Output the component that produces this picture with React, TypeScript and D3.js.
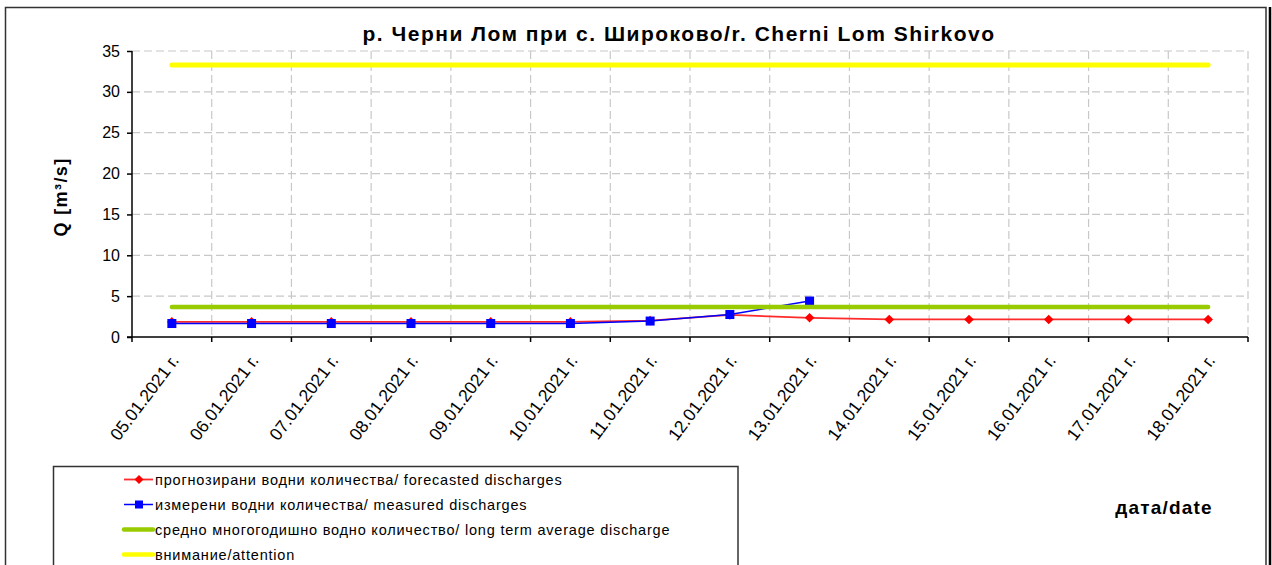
import React, { useEffect, useRef } from "react";
import * as d3 from "d3";

const dates: string[] = [
  "05.01.2021 г.",
  "06.01.2021 г.",
  "07.01.2021 г.",
  "08.01.2021 г.",
  "09.01.2021 г.",
  "10.01.2021 г.",
  "11.01.2021 г.",
  "12.01.2021 г.",
  "13.01.2021 г.",
  "14.01.2021 г.",
  "15.01.2021 г.",
  "16.01.2021 г.",
  "17.01.2021 г.",
  "18.01.2021 г.",
];

// forecasted discharges (red)
const forecast: number[] = [1.85, 1.85, 1.85, 1.85, 1.85, 1.85, 2.0, 2.7, 2.35, 2.15, 2.15, 2.15, 2.15, 2.15];
// measured discharges (blue), only up to 13.01
const measured: number[] = [1.65, 1.65, 1.65, 1.65, 1.65, 1.65, 1.95, 2.75, 4.4];
const longTermAverage = 3.67;
const attention = 33.3;

const yTicks: number[] = [0, 5, 10, 15, 20, 25, 30, 35];

const legendLabels: string[] = [
  "прогнозирани водни количества/ forecasted discharges",
  "измерени водни количества/ measured discharges",
  "средно многогодишно водно количество/ long term average discharge",
  "внимание/attention",
];

const title = "р. Черни Лом при с. Широково/r. Cherni Lom Shirkovo";

const width = 1272;
const height = 565;
const marginLeft = 132;
const marginRight = 1248;
const marginTop = 51;
const marginBottom = 337;

const font = "Arial, 'Liberation Sans', sans-serif";

export default function App() {
  const holderRef = useRef<HTMLDivElement | null>(null);

  useEffect(() => {
    const holder = holderRef.current;
    if (!holder || holder.hasChildNodes()) return;

    const x = d3.scaleBand().domain(dates).range([marginLeft, marginRight]);
    const y = d3.scaleLinear().domain([0, 35]).range([marginBottom, marginTop]);
    const cx = (d: string) => (x(d) as number) + x.bandwidth() / 2;

    const svg = d3
      .select(holder)
      .append("svg")
      .attr("width", width)
      .attr("height", height)
      .style("position", "absolute")
      .style("left", "0px")
      .style("top", "0px")
      .style("font-family", font);

    svg.append("rect").attr("width", width).attr("height", height).attr("fill", "#fff");

    // outer chart frame
    svg
      .append("rect")
      .attr("x", 5.5)
      .attr("y", 7.5)
      .attr("width", 1260.5)
      .attr("height", 570)
      .attr("fill", "none")
      .attr("stroke", "#333")
      .attr("stroke-width", 1.5);
    svg
      .append("line")
      .attr("x1", 1270)
      .attr("x2", 1270)
      .attr("y1", 7)
      .attr("y2", height)
      .attr("stroke", "#000")
      .attr("stroke-width", 2.5);

    // grid
    const grid = svg.append("g").attr("stroke", "#c8c8c8").attr("stroke-dasharray", "8 4").attr("stroke-width", 1.2);
    grid
      .selectAll("line.h")
      .data(yTicks.filter((t) => t > 0))
      .enter()
      .append("line")
      .attr("x1", marginLeft)
      .attr("x2", marginRight)
      .attr("y1", (d) => y(d))
      .attr("y2", (d) => y(d));
    grid
      .selectAll("line.v")
      .data(dates.slice(1).concat(["end"]))
      .enter()
      .append("line")
      .attr("x1", (d) => (d === "end" ? marginRight : (x(d) as number)))
      .attr("x2", (d) => (d === "end" ? marginRight : (x(d) as number)))
      .attr("y1", marginTop)
      .attr("y2", marginBottom);

    // y axis
    const yAxis = svg
      .append("g")
      .attr("transform", `translate(${marginLeft},0)`)
      .call(d3.axisLeft(y).tickValues(yTicks).tickSize(5).tickPadding(7));
    yAxis.selectAll("text").attr("font-size", 16).attr("fill", "#000").style("font-family", font);
    yAxis.selectAll("line, path").attr("stroke", "#000").attr("stroke-width", 1.5);
    yAxis.select("path").attr("d", `M0,${marginTop}V${marginBottom}`);

    // x axis: ticks on category boundaries
    const xAxis = svg.append("g").attr("transform", `translate(0,${marginBottom})`);
    xAxis
      .append("line")
      .attr("x1", marginLeft - 5)
      .attr("x2", marginRight)
      .attr("stroke", "#000")
      .attr("stroke-width", 1.5);
    xAxis
      .selectAll("line.tick")
      .data(dates.concat(["end"]))
      .enter()
      .append("line")
      .attr("x1", (d) => (d === "end" ? marginRight : (x(d) as number)))
      .attr("x2", (d) => (d === "end" ? marginRight : (x(d) as number)))
      .attr("y1", 0)
      .attr("y2", 5)
      .attr("stroke", "#000")
      .attr("stroke-width", 1.5);
    xAxis
      .selectAll("text")
      .data(dates)
      .enter()
      .append("text")
      .attr("transform", (d) => `translate(${cx(d) + 3},${20}) rotate(-53)`)
      .attr("text-anchor", "end")
      .attr("dy", "0.35em")
      .attr("font-size", 17.5)
      .text((d) => d);

    // series
    const line = d3
      .line<number>()
      .x((_, i) => cx(dates[i]))
      .y((d) => y(d));

    svg
      .append("path")
      .datum(forecast)
      .attr("fill", "none")
      .attr("stroke", "#ff2a2a")
      .attr("stroke-width", 1.8)
      .attr("d", line);
    svg
      .selectAll("path.diamond")
      .data(forecast)
      .enter()
      .append("path")
      .attr("d", (d, i) => {
        const px = cx(dates[i]);
        const py = y(d);
        return `M${px},${py - 4.8}L${px + 4.8},${py}L${px},${py + 4.8}L${px - 4.8},${py}Z`;
      })
      .attr("fill", "#ff0000");

    svg
      .append("path")
      .datum(measured)
      .attr("fill", "none")
      .attr("stroke", "#0000ff")
      .attr("stroke-width", 1.5)
      .attr("d", line);
    svg
      .selectAll("rect.sq")
      .data(measured)
      .enter()
      .append("rect")
      .attr("x", (_, i) => cx(dates[i]) - 4.5)
      .attr("y", (d) => y(d) - 4.5)
      .attr("width", 9)
      .attr("height", 9)
      .attr("fill", "#0000ff");

    svg
      .append("line")
      .attr("x1", cx(dates[0]))
      .attr("x2", cx(dates[dates.length - 1]))
      .attr("y1", y(longTermAverage))
      .attr("y2", y(longTermAverage))
      .attr("stroke", "#99cc00")
      .attr("stroke-width", 4.5)
      .attr("stroke-linecap", "round");
    svg
      .append("line")
      .attr("x1", cx(dates[0]))
      .attr("x2", cx(dates[dates.length - 1]))
      .attr("y1", y(attention))
      .attr("y2", y(attention))
      .attr("stroke", "#ffff00")
      .attr("stroke-width", 5)
      .attr("stroke-linecap", "round");

    // titles
    svg
      .append("text")
      .attr("x", 679)
      .attr("y", 41)
      .attr("text-anchor", "middle")
      .attr("font-size", 21)
      .attr("letter-spacing", 1.5)
      .attr("font-weight", "bold")
      .text(title);
    svg
      .append("text")
      .attr("transform", "translate(67,197) rotate(-90)")
      .attr("text-anchor", "middle")
      .attr("font-size", 18)
      .attr("letter-spacing", 1.4)
      .attr("font-weight", "bold")
      .text("Q [m³/s]");
    svg
      .append("text")
      .attr("x", 1164)
      .attr("y", 514)
      .attr("text-anchor", "middle")
      .attr("font-size", 19)
      .attr("letter-spacing", 1.2)
      .attr("font-weight", "bold")
      .text("дата/date");

    // legend
    svg
      .append("rect")
      .attr("x", 53.5)
      .attr("y", 466.5)
      .attr("width", 684.5)
      .attr("height", 110)
      .attr("fill", "none")
      .attr("stroke", "#333")
      .attr("stroke-width", 1.5);
    const colors = ["#ff2a2a", "#0000ff", "#99cc00", "#ffff00"];
    const widths = [1.8, 1.5, 4.5, 4.5];
    const item = svg
      .selectAll("g.legend")
      .data(legendLabels)
      .enter()
      .append("g")
      .attr("transform", (_, i) => `translate(0,${479.5 + i * 25})`);
    item
      .append("line")
      .attr("x1", 124)
      .attr("x2", 153)
      .attr("stroke", (_, i) => colors[i])
      .attr("stroke-width", (_, i) => widths[i])
      .attr("stroke-linecap", (_, i) => (i > 1 ? "round" : "butt"));
    item
      .filter((_, i) => i === 0)
      .append("path")
      .attr("d", "M139,-4.5L143.5,0L139,4.5L134.5,0Z")
      .attr("fill", "#ff0000");
    item
      .filter((_, i) => i === 1)
      .append("rect")
      .attr("x", 135)
      .attr("y", -4)
      .attr("width", 8)
      .attr("height", 8)
      .attr("fill", "#0000ff");
    item
      .append("text")
      .attr("x", 155)
      .attr("dy", "0.35em")
      .attr("font-size", 14.5)
      .attr("letter-spacing", 0.8)
      .text((d) => d);
  }, []);

  return <div ref={holderRef} />;
}
